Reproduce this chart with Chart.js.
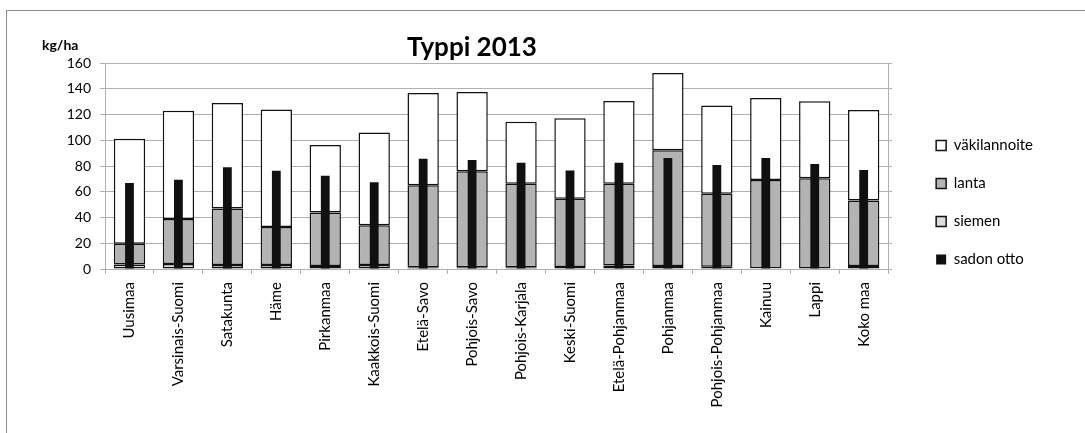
<!DOCTYPE html>
<html>
<head>
<meta charset="utf-8">
<script src="https://cdn.jsdelivr.net/npm/chart.js@4/dist/chart.umd.min.js"></script>
<style>
  html, body { margin: 0; padding: 0; background: #fff; }
  #wrap { position: relative; width: 1085px; height: 433px; overflow: hidden; font-family: Lato, "Liberation Sans", sans-serif; }
  #frame { position: absolute; left: 6px; top: 10px; width: 1200px; height: 600px; border-top: 1px solid #8f8f8f; border-left: 1px solid #8f8f8f; }
  #title { position: absolute; left: 407px; top: 33px; font-size: 26px; font-weight: bold; color: #000; line-height: 1; }
  #unit { position: absolute; left: 42px; top: 38px; font-size: 14px; font-weight: bold; color: #000; line-height: 1; }
  canvas { position: absolute; left: 0; top: 0; }
</style>
</head>
<body>
<div id="wrap">
  <div id="frame"></div>
  <canvas id="c" width="1085" height="433"></canvas>
  <div id="title">Typpi 2013</div>
  <div id="unit">kg/ha</div>
</div>
<script>
// Regions of Finland
const regions = ["Uusimaa", "Varsinais-Suomi", "Satakunta", "Häme", "Pirkanmaa", "Kaakkois-Suomi",
  "Etelä-Savo", "Pohjois-Savo", "Pohjois-Karjala", "Keski-Suomi", "Etelä-Pohjanmaa", "Pohjanmaa",
  "Pohjois-Pohjanmaa", "Kainuu", "Lappi", "Koko maa"];

// Nitrogen inputs, kg/ha (stacked)
const siemen = [3.4, 3.9, 3.1, 3.1, 2.3, 3.1, 1.3, 1.3, 1.3, 1.6, 2.8, 2.3, 1.8, 0.5, 0.3, 2.3];
const lanta = [16.3, 34.9, 43.8, 29.5, 41.5, 30.8, 63.7, 74.6, 65.0, 53.0, 63.5, 89.9, 56.7, 68.6, 70.1, 51.0];
const vakilannoite = [81.5, 84.2, 82.0, 91.2, 52.5, 72.2, 71.7, 61.6, 48.1, 62.4, 64.2, 60.0, 68.4, 63.7, 59.8, 70.2];

// Nitrogen removed with the harvest, kg/ha
const sadonOtto = [66.8, 69.4, 79.0, 76.4, 72.5, 67.3, 85.7, 84.7, 82.6, 76.6, 82.6, 86.2, 80.8, 86.2, 81.6, 76.9];

// Value axis ticks
const yTicks = [0, 20, 40, 60, 80, 100, 120, 140, 160];

const FONT = "Lato, 'Liberation Sans', sans-serif";
const GRID = "#b0b0b0";
const EDGE = "#111111";

const legendOrder = [2, 1, 0, 3];

const common = { categoryPercentage: 1, grouped: false };

new Chart(document.getElementById("c"), {
  type: "bar",
  data: {
    labels: regions,
    datasets: [
      { ...common, label: "siemen", data: siemen, stack: "panos", order: 1,
        backgroundColor: "#dcdcdc", borderColor: EDGE, borderWidth: 1.5, borderSkipped: false, barPercentage: 0.64 },
      { ...common, label: "lanta", data: lanta, stack: "panos", order: 1,
        backgroundColor: "#b3b3b3", borderColor: EDGE, borderWidth: 1.5, borderSkipped: false, barPercentage: 0.64 },
      { ...common, label: "väkilannoite", data: vakilannoite, stack: "panos", order: 1,
        backgroundColor: "#ffffff", borderColor: EDGE, borderWidth: 1.5, borderSkipped: false, barPercentage: 0.64 },
      { ...common, label: "sadon otto", data: sadonOtto, stack: "otto", order: 0,
        backgroundColor: "#0f110f", borderColor: "#0f110f", borderWidth: 0, barPercentage: 0.18 }
    ]
  },
  options: {
    responsive: false,
    animation: false,
    devicePixelRatio: 1,
    layout: { padding: { top: 63, left: 60, right: 42, bottom: 10 } },
    plugins: {
      title: { display: false },
      tooltip: { enabled: false },
      legend: {
        position: "right",
        align: "start",
        title: { display: true, text: " ", font: { size: 10 }, padding: 20 },
        labels: {
          font: { family: FONT, size: 15 },
          color: "#000",
          boxWidth: 10,
          boxHeight: 10,
          padding: 23,
          sort: (a, b) => legendOrder.indexOf(a.datasetIndex) - legendOrder.indexOf(b.datasetIndex)
        }
      }
    },
    scales: {
      x: {
        stacked: true,
        grid: { drawOnChartArea: false, drawTicks: true, tickLength: 5, color: GRID },
        border: { color: GRID },
        ticks: { font: { family: FONT, size: 15 }, color: "#000", minRotation: 90, maxRotation: 90, padding: 8, autoSkip: false },
        afterFit: s => { s.height = 154; }
      },
      y: {
        stacked: true,
        min: 0, max: 160,
        afterBuildTicks: s => { s.ticks = yTicks.map(v => ({ value: v })); },
        grid: { color: GRID, tickLength: 5 },
        border: { color: GRID },
        ticks: { font: { family: FONT, size: 14 }, color: "#000", padding: 9 },
        afterFit: s => { s.width = 45; }
      },
      y2: {
        position: "right",
        min: 0, max: 160,
        afterBuildTicks: s => { s.ticks = yTicks.map(v => ({ value: v })); },
        grid: { drawOnChartArea: false, drawTicks: true, tickLength: 4, color: GRID },
        border: { color: GRID },
        ticks: { display: false },
        afterFit: s => { s.width = 25; }
      }
    }
  }
});
</script>
</body>
</html>
